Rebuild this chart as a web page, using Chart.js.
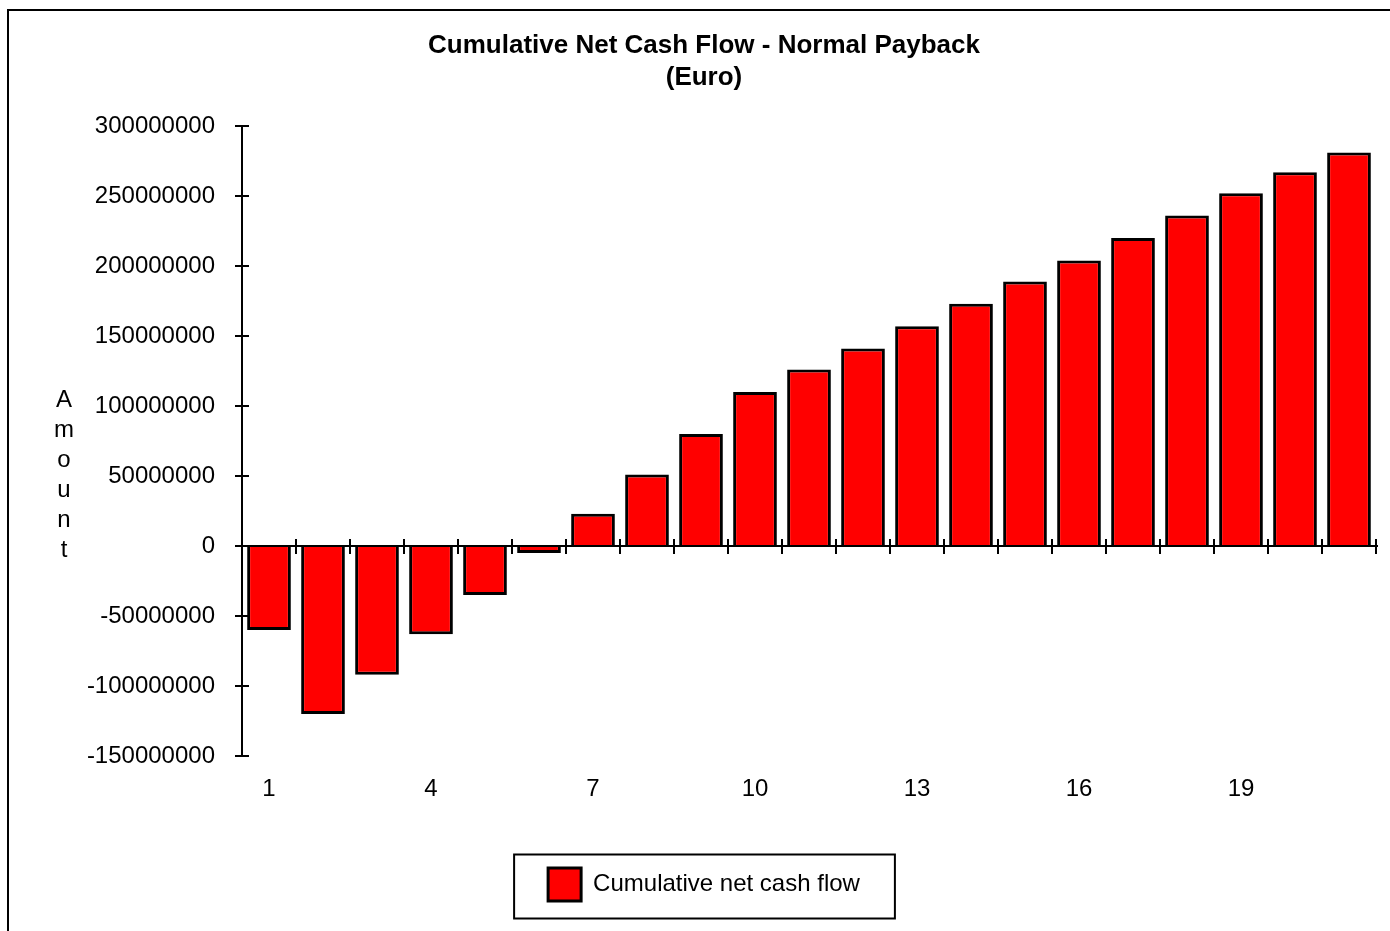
<!DOCTYPE html>
<html>
<head>
<meta charset="utf-8">
<title>Cumulative Net Cash Flow - Normal Payback</title>
<script src="https://cdn.jsdelivr.net/npm/chart.js@4/dist/chart.umd.min.js"></script>
<style>
  html, body { margin: 0; padding: 0; background: #fff; }
  #wrap { position: relative; width: 1390px; height: 931px; overflow: hidden; }
  #frame { position: absolute; left: 7px; top: 9px; width: 3000px; height: 3000px;
           border-left: 2px solid #000; border-top: 2px solid #000; }
  #cv { position: absolute; left: 0; top: 0; }
</style>
</head>
<body>
<div id="wrap">
  <div id="frame"></div>
  <canvas id="cv" width="1390" height="931"></canvas>
</div>
<script>
// ── Data ─────────────────────────────────────────────────────────
const years = ['1','2','3','4','5','6','7','8','9','10','11','12','13','14','15','16','17','18','19','20','21'];
const cumulativeCash = [
  -60000000, -120000000, -92000000, -63000000, -35000000, -5000000,
   23000000,   51000000,  80000000, 110000000, 126000000, 141000000,
  157000000,  173000000, 189000000, 204000000, 220000000, 236000000,
  252000000,  267000000, 281000000
];
const yTicksMin  = -150000000;
const yTicksMax  =  300000000;
const yTickStep  =   50000000;
const axisLetters = ['A','m','o','u','n','t'];

const FONT = "'Liberation Sans', Arial, sans-serif";
Chart.defaults.font.family = FONT;
Chart.defaults.color = '#000';

// ── Axis marks: zero line, crossing ticks, vertical axis title, legend frame ──
const axisMarks = {
  id: 'axisMarks',
  afterDatasetsDraw(chart) {
    const { ctx, chartArea, scales: { x, y } } = chart;
    const y0 = y.getPixelForValue(0);
    const half = (x.getPixelForValue(1) - x.getPixelForValue(0)) / 2;

    ctx.save();
    ctx.strokeStyle = '#000';
    ctx.lineWidth = 2;
    ctx.beginPath();
    ctx.moveTo(chartArea.left, y0);
    ctx.lineTo(chartArea.right + 2, y0);
    for (let i = 0; i <= years.length; i++) {
      const px = Math.round(x.getPixelForValue(i) - half);
      ctx.moveTo(px, y0 - 7);
      ctx.lineTo(px, y0 + 8);
    }
    y.ticks.forEach(t => {
      const py = Math.round(y.getPixelForValue(t.value));
      ctx.moveTo(chartArea.left - 7, py);
      ctx.lineTo(chartArea.left + 7, py);
    });
    ctx.stroke();

    // "Amount" stacked letter by letter
    ctx.fillStyle = '#000';
    ctx.font = '24px ' + FONT;
    ctx.textAlign = 'center';
    ctx.textBaseline = 'alphabetic';
    axisLetters.forEach((ch, i) => ctx.fillText(ch, 64, 407 + i * 30));
    ctx.restore();
  },
  afterDraw(chart) {
    const hb = chart.legend && chart.legend.legendHitBoxes && chart.legend.legendHitBoxes[0];
    if (!hb) return;
    const { ctx } = chart;
    const cy = hb.top + hb.height / 2;
    ctx.save();
    ctx.strokeStyle = '#000';
    ctx.lineWidth = 2;
    ctx.strokeRect(hb.left - 34, cy - 30, hb.width + 34 + 35, 64);
    ctx.restore();
  }
};

new Chart(document.getElementById('cv'), {
  type: 'bar',
  data: {
    labels: years,
    datasets: [{
      label: 'Cumulative net cash flow',
      data: cumulativeCash,
      backgroundColor: '#ff0000',
      borderColor: '#000',
      borderWidth: 3,
      borderSkipped: 'start',
      categoryPercentage: 0.81,
      barPercentage: 1.0,
    }],
  },
  options: {
    responsive: false,
    animation: false,
    layout: { padding: { left: 32, right: 14, top: 12, bottom: 20 } },
    plugins: {
      title: {
        display: true,
        text: ['Cumulative Net Cash Flow - Normal Payback', '(Euro)'],
        color: '#000',
        font: { size: 26, weight: 'bold', lineHeight: 32 / 26 },
        padding: { top: 18, bottom: 32 },
      },
      legend: {
        display: true,
        position: 'bottom',
        labels: {
          color: '#000',
          font: { size: 24 },
          boxWidth: 33,
          boxHeight: 33,
          padding: 10,
        },
      },
      tooltip: { enabled: false },
    },
    scales: {
      x: {
        grid: { display: false, drawTicks: false },
        border: { display: false },
        ticks: {
          autoSkip: false,
          maxRotation: 0,
          padding: 19,
          font: { size: 24 },
          callback: (v, i) => (i % 3 === 0 ? years[i] : ''),
        },
        afterFit: s => { s.height = 102; },
      },
      y: {
        min: yTicksMin,
        max: yTicksMax,
        grid: { display: false, drawTicks: false },
        border: { display: true, color: '#000', width: 2 },
        ticks: {
          stepSize: yTickStep,
          padding: 27,
          font: { size: 24 },
          callback: v => String(v),
        },
        afterFit: s => { s.width = 210; },
      },
    },
  },
  plugins: [axisMarks],
});
</script>
</body>
</html>
